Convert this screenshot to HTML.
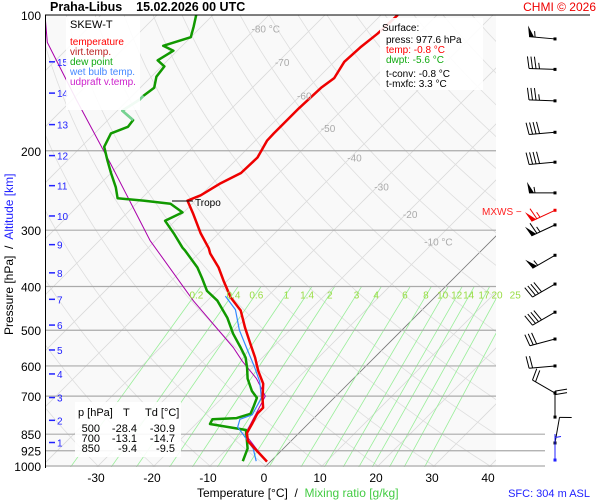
<!DOCTYPE html>
<html><head><meta charset="utf-8"><style>
html,body{margin:0;padding:0;background:#fff;}
svg{display:block;font-family:"Liberation Sans",sans-serif;}
</style></head><body>
<svg id="chart" width="600" height="500" viewBox="0 0 600 500" xmlns="http://www.w3.org/2000/svg">
<rect x="0" y="0" width="600" height="500" fill="#fff"/>
<rect x="45" y="15" width="451" height="452" fill="#f9f9f9"/>
<defs><clipPath id="clip"><rect x="46" y="15" width="450" height="452"/></clipPath></defs>
<g id="grid" clip-path="url(#clip)"></g>
<g id="plines"></g>
<g id="series" clip-path="url(#clip)"></g>
<g id="overlay"></g>
<text x="50" y="11" font-size="12.5" font-weight="bold" fill="#000" xml:space="preserve">Praha-Libus    15.02.2026 00 UTC</text>
<text x="596" y="11" font-size="12" fill="#e00" text-anchor="end">CHMI © 2026</text>
<line x1="45" y1="15" x2="590" y2="15" stroke="#000" stroke-width="1"/>
<line x1="45.5" y1="15" x2="45.5" y2="468" stroke="#000" stroke-width="1"/>
<text transform="translate(13,335) rotate(-90)" font-size="12" xml:space="preserve"><tspan fill="#000">Pressure [hPa]  /  </tspan><tspan fill="#22f">Altitude [km]</tspan></text>
<text x="197" y="497" font-size="12" xml:space="preserve"><tspan fill="#000">Temperature [°C]  /  </tspan><tspan fill="#4c4">Mixing ratio [g/kg]</tspan></text>
<text x="590" y="497" font-size="11" fill="#22f" text-anchor="end">SFC: 304 m ASL</text>
<g>
<rect x="66" y="17" width="74" height="93" fill="#fff" opacity="0.9"/>
<text x="70" y="28" font-size="11" fill="#000">SKEW-T</text>
<text x="70" y="45" font-size="10" fill="#f00">temperature</text>
<text x="70" y="55" font-size="10" fill="#b22">virt.temp.</text>
<text x="70" y="65" font-size="10" fill="#1a1">dew point</text>
<text x="70" y="75" font-size="10" fill="#48f">wet bulb temp.</text>
<text x="70" y="85" font-size="10" fill="#c2c">udpraft v.temp.</text>
</g>
<g>
<rect x="380" y="18" width="103" height="72" fill="#fff" opacity="0.9"/>
<text x="382" y="31" font-size="10" fill="#000">Surface:</text>
<text x="386" y="43" font-size="10" fill="#000">press: 977.6 hPa</text>
<text x="386" y="53" font-size="10" fill="#f00">temp: -0.8 °C</text>
<text x="386" y="63" font-size="10" fill="#1a1">dwpt: -5.6 °C</text>
<text x="386" y="77" font-size="10" fill="#000">t-conv: -0.8 °C</text>
<text x="386" y="87" font-size="10" fill="#000">t-mxfc: 3.3 °C</text>
</g>
<g>
<rect x="75" y="402" width="106" height="55" fill="#fff" opacity="0.9"/>
<text x="78" y="416" font-size="11">p [hPa]</text><text x="123" y="416" font-size="11">T</text><text x="145" y="416" font-size="11">Td [°C]</text>
<text x="100" y="432" font-size="11" text-anchor="end">500</text><text x="137" y="432" font-size="11" text-anchor="end">-28.4</text><text x="175" y="432" font-size="11" text-anchor="end">-30.9</text>
<text x="100" y="442" font-size="11" text-anchor="end">700</text><text x="137" y="442" font-size="11" text-anchor="end">-13.1</text><text x="175" y="442" font-size="11" text-anchor="end">-14.7</text>
<text x="100" y="452" font-size="11" text-anchor="end">850</text><text x="137" y="452" font-size="11" text-anchor="end">-9.4</text><text x="175" y="452" font-size="11" text-anchor="end">-9.5</text>
</g>
<text x="482" y="215" font-size="10" fill="#f22">MXWS −</text>
<g id="winds"></g>
</svg>
<script>
const NS="http://www.w3.org/2000/svg";
// ---- data ----
const pressureTicks=[100,200,300,400,500,600,700,850,925,1000];
const tempTicks=[-30,-20,-10,0,10,20,30,40];
const altKm=[1,2,3,4,5,6,7,8,9,10,11,12,13,14,15];
const altP=[887,792,705,625,553,487,427,373,323,279,239,205,175,149,127];
const isoLabels=[-80,-70,-60,-50,-40,-30,-20,-10];
const isoLabelP=[107,127,151,178,207,240,276,318];
const mixRatios=[0.2,0.4,0.6,1,1.4,2,3,4,6,8,10,12,14,17,20,25];
const tempP=[978,926,880,845,807,766,743,706,657,615,575,536,494,452,423,388,363,338,329,305,275,258,251,236,224,207,190,183,174,161,145,138,127,118,110,100];
const tempT=[-0.6,-4.3,-7.7,-9.3,-10.0,-10.9,-10.9,-12.8,-15.2,-18.4,-21.3,-24.6,-28.4,-32.3,-36.4,-40.7,-43.9,-47.9,-49.1,-53.2,-58.2,-61.4,-60.0,-58.6,-56.8,-56.6,-57.9,-58.0,-58.0,-58.0,-57.7,-57.1,-58.2,-57.9,-57.3,-57.0];
const dewP=[976,915,832,807,788,783,766,743,706,682,640,606,575,546,509,469,430,409,383,363,333,328,305,286,274,262,258,255,241,224,210,196,183,177,171,163,154,151,145,137,130,126,120,117,112,106,100];
const dewT=[-5.0,-6.4,-10.0,-17.5,-17.9,-13.8,-12.1,-12.7,-13.8,-15.9,-18.9,-20.9,-23.0,-25.7,-29.5,-33.4,-38.2,-41.8,-45.0,-47.7,-52.9,-53.9,-58.0,-61.8,-60.2,-63.9,-69.3,-74.3,-76.6,-80.0,-82.9,-85.9,-87.1,-85.2,-85.5,-89.1,-88.0,-88.0,-87.5,-89.1,-89.5,-91.8,-90.7,-93.4,-90.0,-91.4,-93.0];
const wetP=[976,915,850,820,788,770,706,650,600,550,500,450,420];
const wetT=[-2.6,-5.4,-9.8,-12.0,-13.0,-11.6,-13.0,-16.2,-20.0,-24.3,-29.0,-33.4,-37.6];
const updP=[977,850,700,640,586,546,430,316,215,154,115,100];
const updT=[-0.8,-9.4,-12.6,-17.3,-22.9,-27.0,-42.5,-61.0,-81.4,-99.3,-114.7,-120];
const windP=[113,132,155,182,212,248,271,292,341,395,456,523,600,689,779,889,970];
const windDir=[275,272,272,265,265,270,245,245,240,240,240,255,265,300,360,10,360];
const windSpd=[55,35,35,40,40,55,65,65,55,40,40,30,20,20,20,10,5];

// ---- axes ----
function Y(p){return 15+451*Math.log10(p/100);}
function X(t,p){return 266+5.6*t+(466-Y(p));}
function el(tag,attrs,parent){const e=document.createElementNS(NS,tag);for(const k in attrs)e.setAttribute(k,attrs[k]);parent.appendChild(e);return e;}
const grid=document.getElementById('grid'),ser=document.getElementById('series'),ov=document.getElementById('overlay'),pl=document.getElementById('plines');

for(let t=-160;t<=40;t+=10){
  const l=el('line',{x1:X(t,1050),y1:Y(1050),x2:X(t,100),y2:Y(100),stroke:t===0?'#777':'#dadada','stroke-width':0.8},grid);
  
  
}
for(let th=-40;th<=200;th+=10){
  let d='';
  for(let p=1050;p>=100;p-=10){const T=(th+273.15)*Math.pow(p/1000,0.286)-273.15;d+=(d?'L':'M')+X(T,p).toFixed(1)+','+Y(p).toFixed(1);}
  const a=el('path',{d:d,fill:'none',stroke:'#dedede','stroke-width':0.8},grid);
  
  
}
function tdw(w,p){const e=w*p/(622+w);const L=Math.log(e/6.112);return 243.5*L/(17.67-L);}
mixRatios.forEach(w=>{
  const m=el('line',{x1:X(tdw(w,1050),1050),y1:Y(1050),x2:X(tdw(w,400),400),y2:Y(400),stroke:'#9e9','stroke-width':0.8},grid);
  
  
  const tx=el('text',{x:X(tdw(w,385),385)-10,y:Y(400)+12,'font-size':10,fill:'#9d4','text-anchor':'middle'},ov);
  tx.textContent=w;
  
  
});
pressureTicks.forEach(p=>{
  const low=p>=850;
  if(p>100){const g=el('line',{x1:46,y1:Y(p),x2:low?545:496,y2:Y(p),stroke:'#aaa','stroke-width':1.2},pl);
  
  }
  const t=el('text',{x:41,y:Y(p)+5,'font-size':12,'text-anchor':'end',fill:'#000'},ov);
  t.textContent=p;
  
  
});
tempTicks.forEach(tv=>{
  const t=el('text',{x:264+5.6*tv,y:482,'font-size':12,'text-anchor':'middle',fill:'#000'},ov);
  t.textContent=tv;
  
  
});
isoLabels.forEach((tv,i)=>{
  const p=isoLabelP[i];
  const wide=(tv===-80||tv===-10);
  const t=el('text',{x:X(tv,p)+(tv===-80?10:4),y:Y(p)+4,'font-size':10,fill:'#aaa','text-anchor':'middle'},ov);
  t.textContent=wide?tv+' °C':tv;
  
  
});
altKm.forEach((k,i)=>{
  const y=Y(altP[i]);
  const l=el('line',{x1:49,y1:y,x2:55,y2:y,stroke:'#22f','stroke-width':1.5},ov);
  
  
  const t=el('text',{x:57,y:y+4,'font-size':10,fill:'#22f'},ov);
  t.textContent=k;
  
  
});
function line(P,T,color,w,name){
  let d='';P.forEach((p,i)=>{d+=(i?'L':'M')+X(T[i],p).toFixed(1)+','+Y(p).toFixed(1);});
  const e=el('path',{d:d,fill:'none',stroke:color,'stroke-width':w,'stroke-linejoin':'round'},ser);
  
  
  return e;
}
line(updP,updT,'#a0a',1,'updraft-line');
line(dewP,dewT,'#190',2.5,'dewpoint-line');
line(dewP.slice(34,38),dewT.slice(34,38),'#aeda',2.5,'dewpoint-line-faint');
line(wetP,wetT,'#38f',1.2,'wetbulb-line');
line(tempP,tempT,'#e00',2.5,'temperature-line');
const tp=el('line',{x1:172,y1:201,x2:193,y2:201,stroke:'#000','stroke-width':1},ov);


const tt=el('text',{x:195,y:206,'font-size':10,fill:'#000'},ov);
tt.textContent='Tropo';


const wg=document.getElementById('winds');
windP.forEach((p,i)=>{
  const y=Y(p),x=555;
  const col=i===6?'#e00':(i===windP.length-1?'#22f':'#000');
  const a=windDir[i]*Math.PI/180,L=26;
  const ux=Math.sin(a),uy=-Math.cos(a);
  const ex=x+ux*L,ey=y+uy*L;
  const g=el('g',{},wg);
  
  
  el('line',{x1:x,y1:y,x2:ex,y2:ey,stroke:col,'stroke-width':1},g);
  el('rect',{x:x-1.5,y:y-1.5,width:3,height:3,fill:col},g);
  const px=-uy,py=ux;
  let s=windSpd[i],pos=0;
  while(s>=50){
    const bx=ex-ux*pos,by=ey-uy*pos;
    el('polygon',{points:`${bx},${by} ${bx+px*11+ux*2},${by+py*11+uy*2} ${bx-ux*5},${by-uy*5}`,fill:col},g);
    pos+=6;s-=50;
  }
  while(s>=10){const bx=ex-ux*pos,by=ey-uy*pos;el('line',{x1:bx,y1:by,x2:bx+px*12+ux*2,y2:by+py*12+uy*2,stroke:col,'stroke-width':1},g);pos+=3.5;s-=10;}
  if(s>=5){if(pos===0)pos=3.5;const bx=ex-ux*pos,by=ey-uy*pos;el('line',{x1:bx,y1:by,x2:bx+px*6+ux*1,y2:by+py*6+uy*1,stroke:col,'stroke-width':1},g);}
});
</script>
</body></html>
